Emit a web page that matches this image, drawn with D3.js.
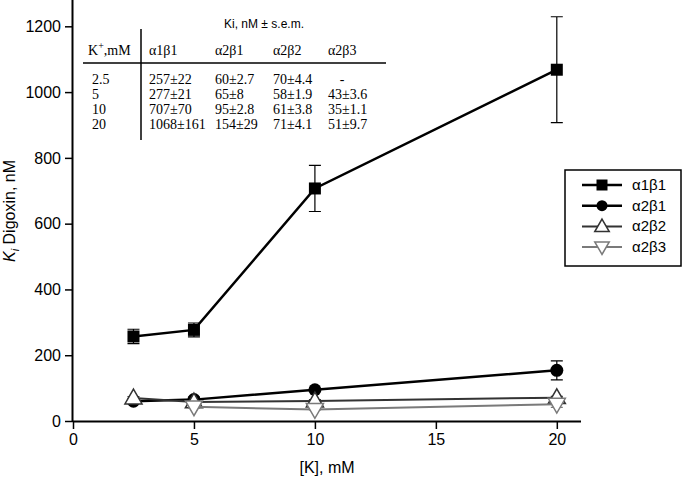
<!DOCTYPE html>
<html><head><meta charset="utf-8">
<script src="https://cdn.jsdelivr.net/npm/d3@7"></script>
<style>body{margin:0;background:#fff}svg{display:block}</style>
</head><body>
<svg id="c" width="700" height="479"></svg>
<script>
const kConc = [2.5, 5, 10, 20];
const seriesNames = ["α1β1", "α2β1", "α2β2", "α2β3"];
const a1b1 = [257, 277, 707, 1068];
const a1b1Err = [22, 21, 70, 161];
const a2b1 = [60, 65, 95, 154];
const a2b1Err = [2.7, 8, 2.8, 29];
const a2b2 = [70, 58, 61, 71];
const a2b2Err = [4.4, 1.9, 3.8, 4.1];
const a2b3 = [null, 43, 35, 51];
const a2b3Err = [null, 3.6, 1.1, 9.7];
const xTicks = [0, 5, 10, 15, 20];
const yTicks = [0, 200, 400, 600, 800, 1000, 1200];

const svg = d3.select("#c");
const x = d3.scaleLinear().domain([0, 21]).range([73, 581]);
const y = d3.scaleLinear().domain([0, 1280]).range([421, 0]);
const sans = "Liberation Sans, Arial, sans-serif";
const serif = "Liberation Serif, Times New Roman, serif";

const series = [
  {name: seriesNames[0], vals: a1b1, errs: a1b1Err, color: "#000", width: 2.5, marker: "square"},
  {name: seriesNames[1], vals: a2b1, errs: a2b1Err, color: "#000", width: 2.5, marker: "circle"},
  {name: seriesNames[2], vals: a2b2, errs: a2b2Err, color: "#333", width: 2, marker: "up"},
  {name: seriesNames[3], vals: a2b3, errs: a2b3Err, color: "#7a7a7a", width: 2, marker: "down"}
];

// axes
const xAxis = d3.axisBottom(x).tickValues(xTicks).tickFormat(d3.format("d")).tickSize(8).tickPadding(5);
const gx = svg.append("g").attr("transform", "translate(0,421)").call(xAxis);
const yAxis = d3.axisLeft(y).tickValues(yTicks).tickFormat(d3.format("d")).tickSize(8).tickPadding(4);
const gy = svg.append("g").attr("transform", "translate(73,0)").call(yAxis);
[gx, gy].forEach(g => {
  g.select(".domain").attr("stroke", "#000").attr("stroke-width", 2);
  g.selectAll(".tick line").attr("stroke", "#000").attr("stroke-width", 1.5);
  g.selectAll(".tick text").attr("fill", "#000").style("font-family", sans).style("font-size", "16px");
});
gx.select(".domain").attr("d", `M${x(0)},0.5H${x(21)}`);
gy.select(".domain").attr("d", `M-0.5,${y(0)}V${y(1280)}`);

// axis titles
svg.append("text").attr("x", 327).attr("y", 473).attr("text-anchor", "middle")
  .style("font-family", sans).style("font-size", "16px").text("[K], mM");
const yt = svg.append("text").attr("transform", "translate(15,211) rotate(-90)")
  .attr("text-anchor", "middle").style("font-family", sans).style("font-size", "16px");
yt.append("tspan").style("font-style", "italic").text("K");
yt.append("tspan").style("font-style", "italic").style("font-size", "11px").attr("dy", 4).text("i");
yt.append("tspan").attr("dy", -4).text(" Digoxin, nM");

function marker(g, type, cx, cy, color, s) {
  if (type === "square") {
    g.append("rect").attr("x", cx - s/2).attr("y", cy - s/2).attr("width", s).attr("height", s).attr("fill", color);
  } else if (type === "circle") {
    g.append("circle").attr("cx", cx).attr("cy", cy).attr("r", s/2).attr("fill", color);
  } else {
    const sym = d3.symbol().type(d3.symbolTriangle).size(s * s * 0.75);
    g.append("path").attr("d", sym())
      .attr("transform", `translate(${cx},${cy + (type === "up" ? 1 : -1)}) rotate(${type === "up" ? 0 : 180})`)
      .attr("fill", "#fff").attr("stroke", color).attr("stroke-width", 1.5);
  }
}

series.forEach(s => {
  const g = svg.append("g");
  const pts = kConc.map((k, i) => ({k, v: s.vals[i], e: s.errs[i]})).filter(d => d.v != null);
  pts.forEach(d => {
    const y1 = y(d.v + d.e), y2 = y(d.v - d.e), xc = x(d.k);
    g.append("path").attr("d", `M${xc},${y1}V${y2}M${xc-6},${y1}H${xc+6}M${xc-6},${y2}H${xc+6}`)
      .attr("stroke", s.color).attr("stroke-width", 1.2).attr("fill", "none");
  });
  g.append("path").datum(pts)
    .attr("d", d3.line().x(d => x(d.k)).y(d => y(d.v)))
    .attr("fill", "none").attr("stroke", s.color).attr("stroke-width", s.width);
  pts.forEach(d => marker(g, s.marker, x(d.k), y(d.v), s.color, s.marker === "square" ? 12 : 13));
});

// legend
const lg = svg.append("g");
lg.append("rect").attr("x", 565).attr("y", 170).attr("width", 116).attr("height", 96)
  .attr("fill", "#fff").attr("stroke", "#000").attr("stroke-width", 1.5);
series.forEach((s, i) => {
  const ly = 185 + i * 20.7;
  lg.append("line").attr("x1", 582).attr("x2", 622).attr("y1", ly).attr("y2", ly)
    .attr("stroke", s.color).attr("stroke-width", s.width);
  marker(lg, s.marker, 602, ly, s.color, s.marker === "square" ? 11 : 11);
  lg.append("text").attr("x", 632).attr("y", ly + 5).style("font-family", sans).style("font-size", "15px").text(s.name);
});

// inset table
const tb = svg.append("g");
tb.append("text").attr("x", 264).attr("y", 28).attr("text-anchor", "middle")
  .style("font-family", sans).style("font-size", "12px").text("Ki, nM ± s.e.m.");
const hdr = tb.append("text").attr("x", 88).attr("y", 55).style("font-family", serif).style("font-size", "14px");
hdr.append("tspan").text("K");
hdr.append("tspan").attr("dy", -6).style("font-size", "10px").text("+");
hdr.append("tspan").attr("dy", 6).text(",mM");
const colX = [149, 215, 273, 328];
seriesNames.forEach((n, i) => tb.append("text").attr("x", colX[i]).attr("y", 55)
  .style("font-family", serif).style("font-size", "14px").text(n));
tb.append("line").attr("x1", 83).attr("x2", 386).attr("y1", 63).attr("y2", 63).attr("stroke", "#000").attr("stroke-width", 1.5);
tb.append("line").attr("x1", 141).attr("x2", 141).attr("y1", 29).attr("y2", 140).attr("stroke", "#000").attr("stroke-width", 1.5);
kConc.forEach((k, r) => {
  const by = 84 + r * 15;
  tb.append("text").attr("x", 92).attr("y", by).style("font-family", serif).style("font-size", "14px").text(k);
  series.forEach((s, c) => {
    const v = s.vals[r];
    const t = tb.append("text").attr("y", by).style("font-family", serif).style("font-size", "14px");
    if (v == null) t.attr("x", colX[c] + 14).attr("text-anchor", "middle").text("-");
    else t.attr("x", colX[c]).text(`${v}±${s.errs[r]}`);
  });
});
</script>
</body></html>
